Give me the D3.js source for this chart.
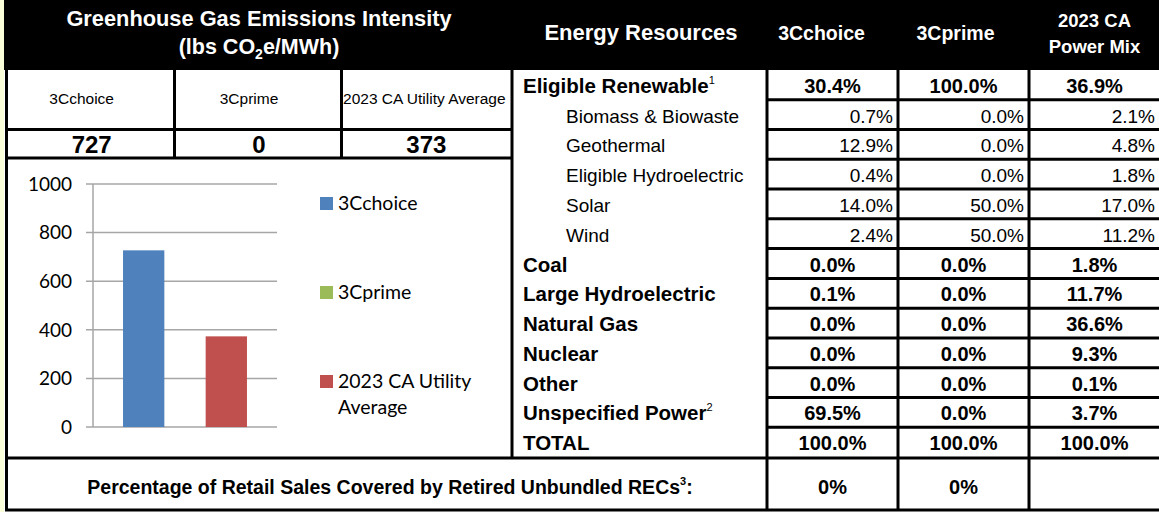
<!DOCTYPE html>
<html>
<head>
<meta charset="utf-8">
<script src="https://cdn.jsdelivr.net/npm/d3@7"></script>
<style>
body { margin: 0; background: #fafed9; }
svg { display: block; font-family: "Liberation Sans", Arial, sans-serif; }
</style>
</head>
<body>
<div id="chart"></div>
<script>
// GHG intensity (lbs CO2e/MWh)
var ghgSeries = ["3Cchoice", "3Cprime", "2023 CA Utility Average"];
var ghgValues = [727, 0, 373];
var ghgColors = ["#4f81bd", "#9bbb59", "#c0504d"];
var legendLines = [["3Cchoice"], ["3Cprime"], ["2023 CA Utility", "Average"]];
var yTicks = [0, 200, 400, 600, 800, 1000];

// power mix table
var resources = ["Eligible Renewable", "Biomass & Biowaste", "Geothermal", "Eligible Hydroelectric",
  "Solar", "Wind", "Coal", "Large Hydroelectric", "Natural Gas", "Nuclear", "Other",
  "Unspecified Power", "TOTAL"];
var resourceNotes = ["1", "", "", "", "", "", "", "", "", "", "", "2", ""];
var subRows = [false, true, true, true, true, true, false, false, false, false, false, false, false];
var mixColumns = ["3Cchoice", "3Cprime", "2023 CA Power Mix"];
var choiceMix = [30.4, 0.7, 12.9, 0.4, 14.0, 2.4, 0.0, 0.1, 0.0, 0.0, 0.0, 69.5, 100.0];
var primeMix = [100.0, 0.0, 0.0, 0.0, 50.0, 50.0, 0.0, 0.0, 0.0, 0.0, 0.0, 0.0, 100.0];
var caMix = [36.9, 2.1, 4.8, 1.8, 17.0, 11.2, 1.8, 11.7, 36.6, 9.3, 0.1, 3.7, 100.0];
var recShares = [0, 0, null];

var W = 1159, H = 512;
var fmt = function(v) { return d3.format(".1f")(v) + "%"; };

var svg = d3.select("#chart").append("svg")
    .attr("width", W)
    .attr("height", H);

svg.append("rect").attr("width", W).attr("height", H).attr("fill", "#fafed9");
svg.append("rect").attr("x", 4).attr("width", W - 4).attr("height", H).attr("fill", "#fff");
svg.append("rect").attr("x", 4).attr("width", W - 4).attr("height", 70).attr("fill", "#000");

var col = d3.scaleBand().domain(mixColumns).range([767, 1160]);
var mid = function(c) { return col(c) + col.bandwidth() / 2; };

// header texts
var head = svg.append("g").attr("fill", "#fff").attr("font-weight", "bold").attr("text-anchor", "middle");
head.append("text").attr("x", 259).attr("y", 26).attr("font-size", 21.8)
    .text("Greenhouse Gas Emissions Intensity");
var co2 = head.append("text").attr("x", 259).attr("y", 54).attr("font-size", 21.5);
co2.append("tspan").text("(lbs CO");
co2.append("tspan").attr("font-size", 14).attr("dy", 5).text("2");
co2.append("tspan").attr("dy", -5).text("e/MWh)");
head.append("text").attr("x", 641).attr("y", 40).attr("font-size", 22).text("Energy Resources");

head.append("text").attr("x", mid("3Cchoice") - 11).attr("y", 40).attr("font-size", 19.5).text("3Cchoice");
head.append("text").attr("x", mid("3Cprime") - 8).attr("y", 40).attr("font-size", 19.5).text("3Cprime");
head.append("text").attr("x", mid("2023 CA Power Mix")).attr("y", 27).attr("font-size", 18.5).text("2023 CA");
head.append("text").attr("x", mid("2023 CA Power Mix")).attr("y", 53).attr("font-size", 18.5).text("Power Mix");

// left panel: labels + values
var ghgCol = d3.scaleBand().domain(ghgSeries).range([8, 510]);
var left = svg.append("g").attr("text-anchor", "middle");
left.selectAll("text.lab").data(ghgSeries).enter().append("text")
    .attr("class", "lab")
    .attr("x", function(d, i) { return ghgCol(d) + ghgCol.bandwidth() / 2 - (i < 2 ? 10 : 2); })
    .attr("y", 104)
    .attr("font-size", 15.5)
    .text(function(d) { return d; });
left.selectAll("text.val").data(ghgValues).enter().append("text")
    .attr("class", "val")
    .attr("x", function(d, i) { return ghgCol(ghgSeries[i]) + ghgCol.bandwidth() / 2; })
    .attr("y", 153)
    .attr("font-size", 24)
    .attr("font-weight", "bold")
    .text(function(d) { return d; });

// bar chart
var y = d3.scaleLinear().domain([0, 1000]).range([427, 184]);
var xs = d3.scaleBand().domain(ghgSeries).range([93, 277]).paddingInner(0).paddingOuter(0.727);
var chart = svg.append("g").attr("font-family", "Lato, 'Open Sans', sans-serif");

chart.selectAll("line.grid").data(yTicks).enter().append("line")
    .attr("class", "grid")
    .attr("x1", 86).attr("x2", 277)
    .attr("y1", function(d) { return y(d); })
    .attr("y2", function(d) { return y(d); })
    .attr("stroke", "#a6a6a6").attr("stroke-width", 1.5);
chart.append("line").attr("x1", 93).attr("x2", 93).attr("y1", y(1000)).attr("y2", y(0))
    .attr("stroke", "#a6a6a6").attr("stroke-width", 1.5);
chart.selectAll("text.tick").data(yTicks).enter().append("text")
    .attr("class", "tick")
    .attr("x", 72)
    .attr("y", function(d) { return y(d); })
    .attr("dy", "0.36em")
    .attr("text-anchor", "end")
    .attr("font-size", 19)
    .attr("fill", "#000")
    .text(function(d) { return d; });

chart.selectAll("rect.bar").data(ghgValues).enter().append("rect")
    .attr("class", "bar")
    .attr("x", function(d, i) { return xs(ghgSeries[i]); })
    .attr("width", xs.bandwidth())
    .attr("y", function(d) { return y(d); })
    .attr("height", function(d) { return y(0) - y(d); })
    .attr("fill", function(d, i) { return ghgColors[i]; });

var legendY = [210, 299, 388];
var leg = chart.selectAll("g.leg").data(legendLines).enter().append("g").attr("class", "leg");
leg.append("rect")
    .attr("x", 320).attr("y", function(d, i) { return legendY[i] - 13; })
    .attr("width", 13).attr("height", 13)
    .attr("fill", function(d, i) { return ghgColors[i]; });
leg.each(function(lines, i) {
  var t = d3.select(this).append("text").attr("x", 338).attr("y", legendY[i]).attr("font-size", 19.5);
  lines.forEach(function(s, k) {
    t.append("tspan").attr("x", 338).attr("dy", k ? 26 : 0).text(s);
  });
});

// right table
var row = d3.scaleBand().domain(d3.range(resources.length)).range([70, 457]);
var rowsG = svg.append("g");
resources.forEach(function(r, i) {
  var cy = row(i) + row.bandwidth() / 2 + 8;
  var sub = subRows[i];
  var t = rowsG.append("text")
      .attr("x", sub ? 566 : 523)
      .attr("y", cy)
      .attr("font-size", sub ? 19 : 20.5)
      .attr("font-weight", sub ? "normal" : "bold")
      .text(r);
  if (resourceNotes[i]) {
    t.append("tspan").attr("font-size", 11).attr("font-weight", "normal").attr("dy", -9).text(resourceNotes[i]);
  }
  [choiceMix, primeMix, caMix].forEach(function(arr, j) {
    var c = mixColumns[j];
    rowsG.append("text")
        .attr("x", sub ? col(c) + col.bandwidth() - 5 : mid(c))
        .attr("y", cy)
        .attr("text-anchor", sub ? "end" : "middle")
        .attr("font-size", sub ? 19 : 20)
        .attr("font-weight", sub ? "normal" : "bold")
        .text(fmt(arr[i]));
  });
});

// bottom REC row
var rec = svg.append("text").attr("x", 390).attr("y", 494).attr("text-anchor", "middle")
    .attr("font-size", 19.5).attr("font-weight", "bold")
    .text("Percentage of Retail Sales Covered by Retired Unbundled RECs");
rec.append("tspan").attr("font-size", 11).attr("dy", -9).text("3");
rec.append("tspan").attr("dy", 9).text(":");
recShares.forEach(function(v, j) {
  if (v === null) return;
  svg.append("text").attr("x", mid(mixColumns[j])).attr("y", 494)
      .attr("text-anchor", "middle").attr("font-size", 20).attr("font-weight", "bold")
      .text(v + "%");
});

// grid lines of the table
var lines = [
  [6.5, 70, 6.5, 511], [512, 70, 512, 459],
  [174.5, 70, 174.5, 159], [341.5, 70, 341.5, 159],
  [5, 129.5, 512, 129.5], [5, 158, 512, 158],
  [5, 458, W, 458], [5, 510, W, 510]
];
col.domain().forEach(function(c) { lines.push([col(c), 70, col(c), 511]); });
d3.range(1, resources.length).forEach(function(i) { lines.push([col.range()[0], row(i), W, row(i)]); });
svg.append("g").selectAll("line").data(lines).enter().append("line")
    .attr("x1", function(d) { return d[0]; }).attr("y1", function(d) { return d[1]; })
    .attr("x2", function(d) { return d[2]; }).attr("y2", function(d) { return d[3]; })
    .attr("stroke", "#000").attr("stroke-width", 3);
</script>
</body>
</html>
